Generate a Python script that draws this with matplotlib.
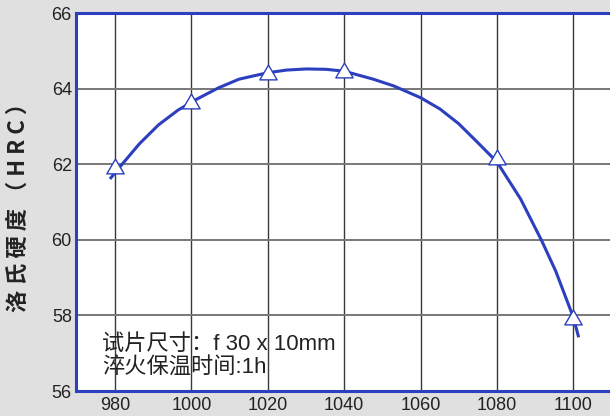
import matplotlib
matplotlib.use("Agg")
import matplotlib.pyplot as plt
from matplotlib.path import Path

# measured hardness points (quench temperature vs HRC)
temps = [980, 1000, 1020, 1040, 1080, 1100]
hrc = [61.95, 63.68, 64.45, 64.49, 62.18, 57.97]

# fitted trend curve
curve_t = [978.7, 981.3, 986.4, 991.4, 996.5, 1001.6, 1007.1, 1012.5, 1020, 1024.9,
           1030.1, 1035.3, 1040, 1042.2, 1047.6, 1053, 1060, 1065.1, 1070, 1074.9,
           1080, 1086.2, 1091.7, 1095.4, 1100, 1101.4]
curve_h = [61.61, 61.93, 62.54, 63.04, 63.43, 63.73, 64.02, 64.25, 64.42, 64.49,
           64.52, 64.51, 64.46, 64.40, 64.25, 64.07, 63.76, 63.46, 63.07, 62.58,
           62.06, 61.08, 59.98, 59.17, 57.95, 57.42]

x_ticks = [980, 1000, 1020, 1040, 1060, 1080, 1100]
y_ticks = [56, 58, 60, 62, 64, 66]

blue = "#2b3fbf"
cjk = ["Liberation Sans", "Noto Sans CJK SC"]

# a slightly flattened triangle, like the original markers
tri = Path([(0, 0.85), (-1, -0.85), (1, -0.85), (0, 0.85)],
           [Path.MOVETO, Path.LINETO, Path.LINETO, Path.CLOSEPOLY])

fig = plt.figure(figsize=(6.10, 4.16), dpi=100)
fig.patch.set_facecolor("#e0e0e0")
# axes runs off the right edge, like the cropped original
ax = fig.add_axes([76 / 610, 25 / 416, 555 / 610, 378 / 416])
ax.set_facecolor("white")

ax.set_xlim(969.8, 1115.1)
ax.set_ylim(56, 66)
ax.set_xticks(x_ticks)
ax.set_yticks(y_ticks)
ax.tick_params(length=0, labelsize=13, colors="#222222")
ax.tick_params(axis="x", pad=4)
ax.tick_params(axis="y", pad=3)
for lab in ax.get_xticklabels() + ax.get_yticklabels():
    lab.set_family("Liberation Sans")

ax.grid(True, axis="x", color="#383838", linewidth=1.0)
ax.grid(True, axis="y", color="#787878", linewidth=1.4)
ax.set_axisbelow(True)

for side in ["left", "bottom", "top", "right"]:
    ax.spines[side].set_color(blue)
    ax.spines[side].set_linewidth(2.2)

ax.plot(curve_t, curve_h, color=blue, linewidth=2.2, solid_capstyle="butt", zorder=3)
ax.plot(temps, hrc, linestyle="none", marker=tri, markersize=12.5,
        markerfacecolor="white", markeredgecolor=blue, markeredgewidth=1.0, zorder=4)

# label anchor is its right edge after rotation
ax.set_ylabel("洛 氏 硬 度 （ H R C ）", family=["Noto Sans CJK SC", "DejaVu Sans"],
              fontsize=16, fontweight="bold", color="#222222")
ax.yaxis.set_label_coords(-0.083, 0.5)

ax.text(0.047, 0.124, "试片尺寸：f 30 x 10mm", transform=ax.transAxes,
        family=cjk, fontsize=16, color="#222222", va="center")
ax.text(0.047, 0.060, "淬火保温时间:1h", transform=ax.transAxes,
        family=cjk, fontsize=16, color="#222222", va="center")

fig.savefig("out.png", dpi=100, facecolor=fig.get_facecolor())
